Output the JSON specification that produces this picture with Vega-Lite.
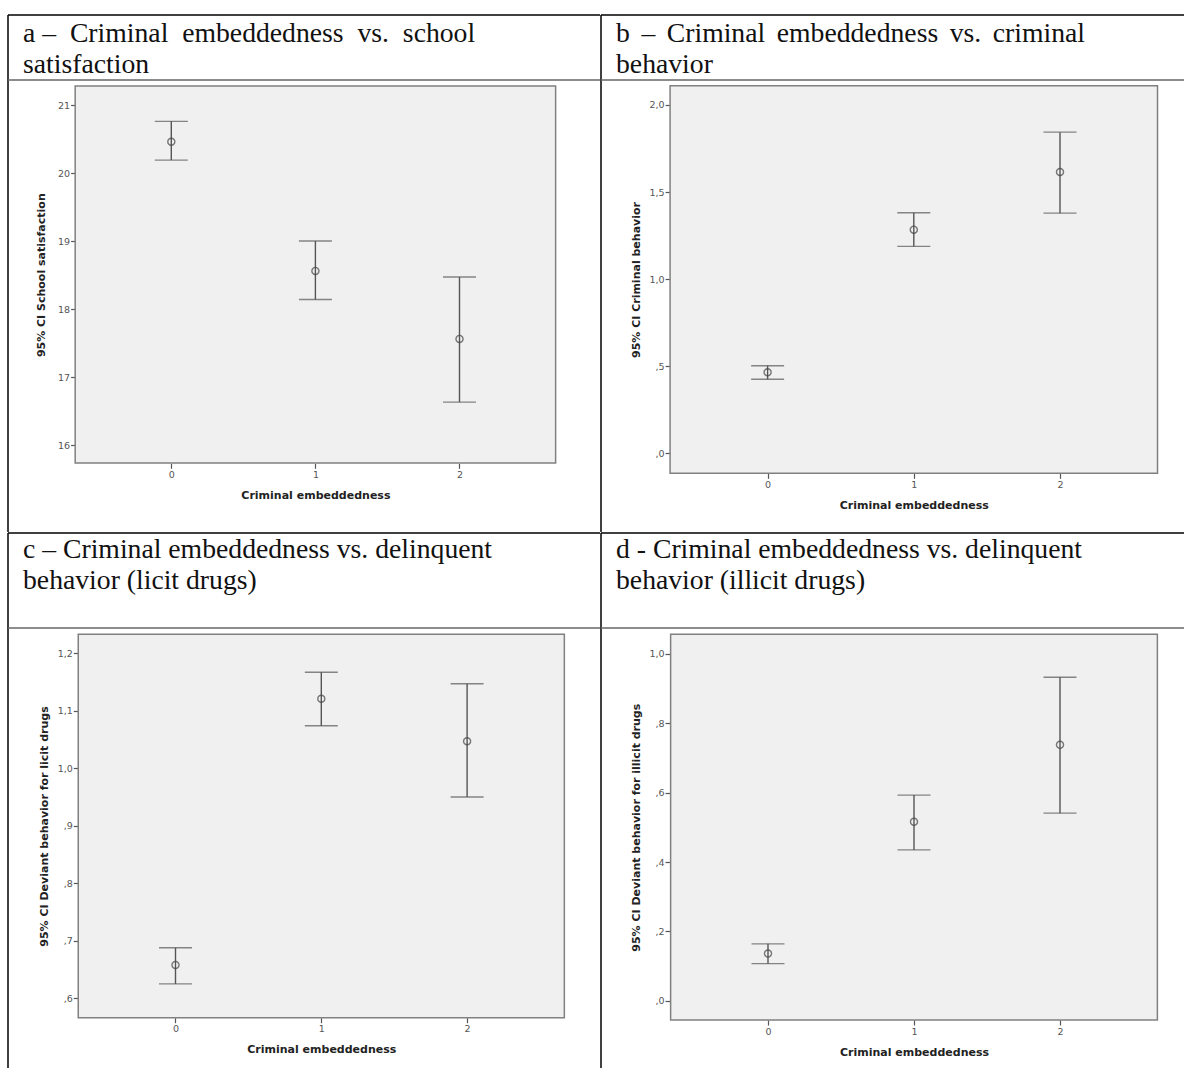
{
  "$schema": "https://vega.github.io/schema/vega-lite/v6.json",
  "background": "white",
  "padding": {"left": 7, "top": 14, "right": 0, "bottom": 0},
  "spacing": -3,
  "datasets": {
    "a": [
      {"ce": 0, "mean": 20.46, "lo": 20.19, "hi": 20.76},
      {"ce": 1, "mean": 18.56, "lo": 18.14, "hi": 19.0},
      {"ce": 2, "mean": 17.56, "lo": 16.63, "hi": 18.47}
    ],
    "b": [
      {"ce": 0, "mean": 0.465, "lo": 0.425, "hi": 0.503},
      {"ce": 1, "mean": 1.284, "lo": 1.188, "hi": 1.381},
      {"ce": 2, "mean": 1.615, "lo": 1.379, "hi": 1.844}
    ],
    "c": [
      {"ce": 0, "mean": 0.658, "lo": 0.625, "hi": 0.688},
      {"ce": 1, "mean": 1.121, "lo": 1.074, "hi": 1.167},
      {"ce": 2, "mean": 1.047, "lo": 0.95, "hi": 1.147}
    ],
    "d": [
      {"ce": 0, "mean": 0.136, "lo": 0.107, "hi": 0.164},
      {"ce": 1, "mean": 0.516, "lo": 0.435, "hi": 0.593},
      {"ce": 2, "mean": 0.738, "lo": 0.541, "hi": 0.933}
    ]
  },
  "vconcat": [
    {
      "spacing": -5,
      "hconcat": [
        {
          "width": 592, "height": 517,
          "title": {"text": ["a  – \u00a0Criminal \u00a0embeddedness \u00a0vs. \u00a0school", "satisfaction"], "offset": -64},
          "layer": [
            {"data": {"values": [{}]}, "mark": {"type": "rect", "fill": "#f0f0f0", "stroke": "#808080", "strokeWidth": 1.5},
             "encoding": {
               "x": {"datum": -0.667, "type": "quantitative", "scale": {"domain": [-1.13324, 2.97502], "nice": false, "zero": false},
                     "axis": {"values": [0, 1, 2], "format": "d", "offset": -68.7, "title": "Criminal embeddedness", "titleX": 307.4, "titleY": 32}},
               "x2": {"datum": 2.667},
               "y": {"datum": 15.735, "type": "quantitative", "scale": {"domain": [14.7206, 22.324], "nice": false, "zero": false},
                     "axis": {"values": [16, 17, 18, 19, 20, 21], "format": "d", "offset": -67.6, "title": "95% CI School satisfaction", "titleX": -34, "titleY": 259.7, "titleAlign": "center"}},
               "y2": {"datum": 21.279}}},
            {"data": {"values": [{}]}, "mark": {"type": "rule", "stroke": "#000", "strokeWidth": 1.5},
             "encoding": {"x": {"datum": -1.13324, "type": "quantitative"}}},
            {"data": {"values": [{}]}, "mark": {"type": "rule", "stroke": "#000", "strokeWidth": 1.5},
             "encoding": {"y": {"datum": 22.324, "type": "quantitative"}}},
            {"data": {"values": [{}]}, "mark": {"type": "rule", "stroke": "#666", "strokeWidth": 1.5},
             "encoding": {"y": {"datum": 21.368, "type": "quantitative"}}},
            {"data": {"name": "a"}, "mark": {"type": "rule", "stroke": "#555", "strokeWidth": 1.4},
             "encoding": {"x": {"field": "ce", "type": "quantitative"}, "y": {"field": "lo", "type": "quantitative"}, "y2": {"field": "hi"}}},
            {"data": {"name": "a"}, "mark": {"type": "tick", "orient": "horizontal", "size": 33, "thickness": 1.4, "color": "#555"},
             "encoding": {"x": {"field": "ce", "type": "quantitative"}, "y": {"field": "lo", "type": "quantitative"}}},
            {"data": {"name": "a"}, "mark": {"type": "tick", "orient": "horizontal", "size": 33, "thickness": 1.4, "color": "#555"},
             "encoding": {"x": {"field": "ce", "type": "quantitative"}, "y": {"field": "hi", "type": "quantitative"}}},
            {"data": {"name": "a"}, "mark": {"type": "point", "shape": "circle", "filled": false, "size": 50, "stroke": "#444", "strokeWidth": 1.4},
             "encoding": {"x": {"field": "ce", "type": "quantitative"}, "y": {"field": "mean", "type": "quantitative"}}}
          ]
        },
        {
          "width": 583, "height": 517,
          "title": {"text": ["b \u2006– \u2006Criminal \u2006embeddedness \u2006vs. \u2006criminal", "behavior"], "offset": -64},
          "layer": [
            {"data": {"values": [{}]}, "mark": {"type": "rect", "fill": "#f0f0f0", "stroke": "#808080", "strokeWidth": 1.5},
             "encoding": {
               "x": {"datum": -0.667, "type": "quantitative", "scale": {"domain": [-1.13953, 2.84815], "nice": false, "zero": false},
                     "axis": {"values": [0, 1, 2], "format": "d", "offset": -58.7, "title": "Criminal embeddedness", "titleX": 312.8, "titleY": 32}},
               "x2": {"datum": 2.667},
               "y": {"datum": -0.115, "type": "quantitative", "scale": {"domain": [-0.45186, 2.5166], "nice": false, "zero": false},
                     "axis": {"values": [0, 0.5, 1, 1.5, 2], "labelExpr": "datum.value < 1 ? replace(format(datum.value, '.1f'), '0.', ',') : replace(format(datum.value, '.1f'), '.', ',')", "offset": -69.1, "title": "95% CI Criminal behavior", "titleX": -34, "titleY": 264.5, "titleAlign": "center"}},
               "y2": {"datum": 2.111}}},
            {"data": {"values": [{}]}, "mark": {"type": "rule", "stroke": "#000", "strokeWidth": 1.5},
             "encoding": {"x": {"datum": -1.13953, "type": "quantitative"}}},
            {"data": {"values": [{}]}, "mark": {"type": "rule", "stroke": "#000", "strokeWidth": 1.5},
             "encoding": {"y": {"datum": 2.5166, "type": "quantitative"}}},
            {"data": {"values": [{}]}, "mark": {"type": "rule", "stroke": "#666", "strokeWidth": 1.5},
             "encoding": {"y": {"datum": 2.1434, "type": "quantitative"}}},
            {"data": {"name": "b"}, "mark": {"type": "rule", "stroke": "#555", "strokeWidth": 1.4},
             "encoding": {"x": {"field": "ce", "type": "quantitative"}, "y": {"field": "lo", "type": "quantitative"}, "y2": {"field": "hi"}}},
            {"data": {"name": "b"}, "mark": {"type": "tick", "orient": "horizontal", "size": 33, "thickness": 1.4, "color": "#555"},
             "encoding": {"x": {"field": "ce", "type": "quantitative"}, "y": {"field": "lo", "type": "quantitative"}}},
            {"data": {"name": "b"}, "mark": {"type": "tick", "orient": "horizontal", "size": 33, "thickness": 1.4, "color": "#555"},
             "encoding": {"x": {"field": "ce", "type": "quantitative"}, "y": {"field": "hi", "type": "quantitative"}}},
            {"data": {"name": "b"}, "mark": {"type": "point", "shape": "circle", "filled": false, "size": 50, "stroke": "#444", "strokeWidth": 1.4},
             "encoding": {"x": {"field": "ce", "type": "quantitative"}, "y": {"field": "mean", "type": "quantitative"}}}
          ]
        }
      ]
    },
    {
      "spacing": -5,
      "hconcat": [
        {
          "width": 592, "height": 535,
          "title": {"text": ["c – Criminal embeddedness vs. delinquent", "behavior (licit drugs)"], "offset": -62},
          "layer": [
            {"data": {"values": [{}]}, "mark": {"type": "rect", "fill": "#f0f0f0", "stroke": "#808080", "strokeWidth": 1.5},
             "encoding": {
               "x": {"datum": -0.667, "type": "quantitative", "scale": {"domain": [-1.14883, 2.91152], "nice": false, "zero": false},
                     "axis": {"values": [0, 1, 2], "format": "d", "offset": -50.3, "title": "Criminal embeddedness", "titleX": 313.3, "titleY": 32}},
               "x2": {"datum": 2.667},
               "y": {"datum": 0.566, "type": "quantitative", "scale": {"domain": [0.47878, 1.40922], "nice": false, "zero": false},
                     "axis": {"values": [0.6, 0.7, 0.8, 0.9, 1.0, 1.1, 1.2], "labelExpr": "datum.value < 1 ? replace(format(datum.value, '.1f'), '0.', ',') : replace(format(datum.value, '.1f'), '.', ',')", "offset": -70.3, "title": "95% CI Deviant behavior for licit drugs", "titleX": -34, "titleY": 293, "titleAlign": "center"}},
               "y2": {"datum": 1.233}}},
            {"data": {"values": [{}]}, "mark": {"type": "rule", "stroke": "#000", "strokeWidth": 1.5},
             "encoding": {"x": {"datum": -1.14883, "type": "quantitative"}}},
            {"data": {"values": [{}]}, "mark": {"type": "rule", "stroke": "#000", "strokeWidth": 1.5},
             "encoding": {"y": {"datum": 1.40922, "type": "quantitative"}}},
            {"data": {"values": [{}]}, "mark": {"type": "rule", "stroke": "#666", "strokeWidth": 1.5},
             "encoding": {"y": {"datum": 1.244, "type": "quantitative"}}},
            {"data": {"name": "c"}, "mark": {"type": "rule", "stroke": "#555", "strokeWidth": 1.4},
             "encoding": {"x": {"field": "ce", "type": "quantitative"}, "y": {"field": "lo", "type": "quantitative"}, "y2": {"field": "hi"}}},
            {"data": {"name": "c"}, "mark": {"type": "tick", "orient": "horizontal", "size": 33, "thickness": 1.4, "color": "#555"},
             "encoding": {"x": {"field": "ce", "type": "quantitative"}, "y": {"field": "lo", "type": "quantitative"}}},
            {"data": {"name": "c"}, "mark": {"type": "tick", "orient": "horizontal", "size": 33, "thickness": 1.4, "color": "#555"},
             "encoding": {"x": {"field": "ce", "type": "quantitative"}, "y": {"field": "hi", "type": "quantitative"}}},
            {"data": {"name": "c"}, "mark": {"type": "point", "shape": "circle", "filled": false, "size": 50, "stroke": "#444", "strokeWidth": 1.4},
             "encoding": {"x": {"field": "ce", "type": "quantitative"}, "y": {"field": "mean", "type": "quantitative"}}}
          ]
        },
        {
          "width": 583, "height": 535,
          "title": {"text": ["d - Criminal embeddedness vs. delinquent", "behavior (illicit drugs)"], "offset": -62},
          "layer": [
            {"data": {"values": [{}]}, "mark": {"type": "rect", "fill": "#f0f0f0", "stroke": "#808080", "strokeWidth": 1.5},
             "encoding": {
               "x": {"datum": -0.667, "type": "quantitative", "scale": {"domain": [-1.14384, 2.84932], "nice": false, "zero": false},
                     "axis": {"values": [0, 1, 2], "format": "d", "offset": -48, "title": "Criminal embeddedness", "titleX": 313, "titleY": 32}},
               "x2": {"datum": 2.667},
               "y": {"datum": -0.0557, "type": "quantitative", "scale": {"domain": [-0.19412, 1.349], "nice": false, "zero": false},
                     "axis": {"values": [0, 0.2, 0.4, 0.6, 0.8, 1.0], "labelExpr": "datum.value < 1 ? replace(format(datum.value, '.1f'), '0.', ',') : replace(format(datum.value, '.1f'), '.', ',')", "offset": -69, "title": "95% CI Deviant behavior for illicit drugs", "titleX": -34, "titleY": 294.2, "titleAlign": "center"}},
               "y2": {"datum": 1.057}}},
            {"data": {"values": [{}]}, "mark": {"type": "rule", "stroke": "#000", "strokeWidth": 1.5},
             "encoding": {"x": {"datum": -1.14384, "type": "quantitative"}}},
            {"data": {"values": [{}]}, "mark": {"type": "rule", "stroke": "#000", "strokeWidth": 1.5},
             "encoding": {"y": {"datum": 1.349, "type": "quantitative"}}},
            {"data": {"values": [{}]}, "mark": {"type": "rule", "stroke": "#666", "strokeWidth": 1.5},
             "encoding": {"y": {"datum": 1.075, "type": "quantitative"}}},
            {"data": {"name": "d"}, "mark": {"type": "rule", "stroke": "#555", "strokeWidth": 1.4},
             "encoding": {"x": {"field": "ce", "type": "quantitative"}, "y": {"field": "lo", "type": "quantitative"}, "y2": {"field": "hi"}}},
            {"data": {"name": "d"}, "mark": {"type": "tick", "orient": "horizontal", "size": 33, "thickness": 1.4, "color": "#555"},
             "encoding": {"x": {"field": "ce", "type": "quantitative"}, "y": {"field": "lo", "type": "quantitative"}}},
            {"data": {"name": "d"}, "mark": {"type": "tick", "orient": "horizontal", "size": 33, "thickness": 1.4, "color": "#555"},
             "encoding": {"x": {"field": "ce", "type": "quantitative"}, "y": {"field": "hi", "type": "quantitative"}}},
            {"data": {"name": "d"}, "mark": {"type": "point", "shape": "circle", "filled": false, "size": 50, "stroke": "#444", "strokeWidth": 1.4},
             "encoding": {"x": {"field": "ce", "type": "quantitative"}, "y": {"field": "mean", "type": "quantitative"}}}
          ]
        }
      ]
    }
  ],
  "config": {
    "view": {"stroke": null},
    "axis": {"domain": false, "grid": false, "ticks": true, "tickSize": 5, "tickColor": "#555", "tickWidth": 1.2,
             "labelFont": "DejaVu Sans", "labelFontSize": 9.5, "labelColor": "#555", "labelPadding": 1,
             "titleFont": "DejaVu Sans", "titleFontSize": 11, "titleFontWeight": "bold", "titleColor": "#222", "titleBaseline": "middle"},
    "title": {"anchor": "start", "frame": "group", "font": "Liberation Serif", "fontSize": 27.7, "fontWeight": "normal", "color": "#111", "lineHeight": 31, "baseline": "alphabetic", "dx": 15}
  }
}
